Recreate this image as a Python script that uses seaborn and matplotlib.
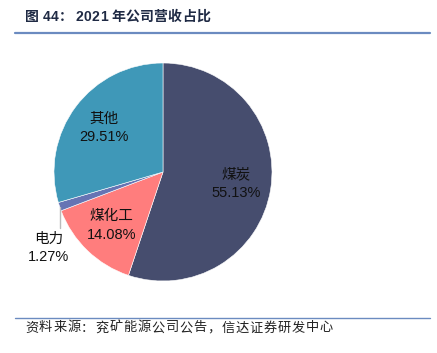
import matplotlib
matplotlib.use("Agg")
import matplotlib.pyplot as plt
import seaborn as sns
import numpy as np

categories = ["煤炭", "煤化工", "电力", "其他"]
values = [55.13, 14.08, 1.27, 29.51]
colors = ["#464D6E", "#FF7D7D", "#6674B4", "#3F98B8"]
title = "图 44： 2021 年公司营收占比"
source = "资料来源：兖矿能源公司公告，信达证券研发中心"

sns.set_theme(style="white")
plt.rcParams['font.family'] = ['Liberation Sans', 'Noto Sans CJK SC', 'DejaVu Sans']

fig = plt.figure(figsize=(4.37, 3.53), dpi=100)
W, H = 437, 353
r = 109
cx, cy = 163, 172
ax = fig.add_axes([(cx - r) / W, 1 - (cy + r) / H, 2 * r / W, 2 * r / H])
wedges, _ = ax.pie(values, colors=colors, startangle=90, counterclock=False,
                   wedgeprops=dict(edgecolor="white", linewidth=0.4))
ax.set_aspect("equal")
ax.set_xlim(-1, 1)
ax.set_ylim(-1, 1)

cum = 0
for cat, v in zip(categories, values):
    mid = 90 - (cum + v / 2) * 3.6
    cum += v
    a = np.deg2rad(mid)
    if cat == "电力":
        ex, ey = np.cos(a), np.sin(a)
        ax.plot([ex, ex], [ey, ey - 0.2], color="#BBBBBB", lw=1, clip_on=False)
        ax.text(ex - 0.1, ey - 0.38, f"{cat}\n{v:.2f}%", ha="center", va="center",
                fontsize=10.5, color="#111111", linespacing=1.4)
    else:
        d = 0.68
        ax.text(d * np.cos(a), d * np.sin(a), f"{cat}\n{v:.2f}%", ha="center", va="center",
                fontsize=10.5, color="#111111", linespacing=1.4)

renderer = fig.canvas.get_renderer()


def spaced_text(s, x0, x1, y, space_w=4.0, **kw):
    """Draw string s char by char from x0 to x1 (pixels) at y (pixels from top)."""
    arts = []
    widths = []
    for ch in s:
        t = fig.text(0, 1 - y / H, ch, ha="left", va="center", **kw)
        if ch == " ":
            widths.append(space_w)
        else:
            widths.append(t.get_window_extent(renderer).width)
        arts.append(t)
    n = len(s)
    extra = (x1 - x0 - sum(widths)) / max(n - 1, 1)
    x = x0
    for t, w in zip(arts, widths):
        t.set_x(x / W)
        x += w + extra


spaced_text(title, 25, 210, 17, space_w=3.0, fontsize=10, fontweight="bold", color="#1F2A44")
line_color = "#6B8BC0"
fig.add_artist(plt.Line2D([15 / W, 430 / W], [1 - 33 / H, 1 - 33 / H], color=line_color, lw=1.6))
fig.add_artist(plt.Line2D([15 / W, 430 / W], [1 - 318 / H, 1 - 318 / H], color=line_color, lw=1.0))
spaced_text(source, 25, 333, 328, fontsize=9.5, color="#222222",
            family=['Noto Sans CJK SC', 'DejaVu Sans'])

fig.savefig("out.png", dpi=100)
